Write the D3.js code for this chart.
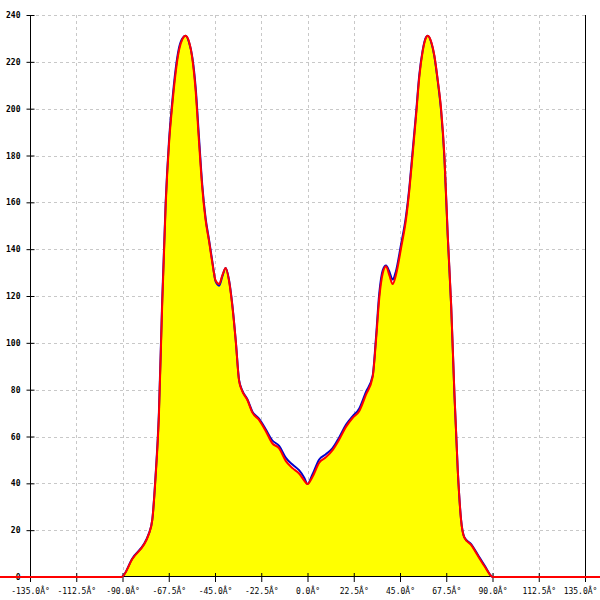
<!DOCTYPE html>
<html>
<head>
<meta charset="utf-8">
<script src="https://cdn.jsdelivr.net/npm/d3@7"></script>
<style>
  html, body { margin: 0; padding: 0; background: #ffffff; }
  svg { display: block; }
  .tick text { font-family: "DejaVu Sans Mono", monospace; font-size: 8px; fill: #000; }
</style>
</head>
<body>
<svg id="chart" width="600" height="600"></svg>
<script>
// ---- data ----
const angles = [-180, -90.5, -85.3, -77.2, -75.5, -73.9, -72.3, -70.7, -69.0, -67.4, -65.8, -64.2, -62.5, -60.9, -59.3, -57.7, -56.0, -54.4, -52.8, -51.2, -49.6, -47.9, -46.3, -44.7, -43.0, -41.4, -39.8, -38.2, -36.6, -34.9, -33.3, -31.7, -29.2, -26.8, -23.6, -20.4, -17.2, -13.8, -10.6, -7.3, -4.1, -1.6, 0, 2.4, 5.7, 8.9, 12.2, 15.4, 18.7, 21.9, 25.2, 28.4, 31.7, 33.3, 34.9, 36.6, 38.2, 39.8, 41.4, 43.0, 45.5, 47.9, 49.5, 51.1, 52.8, 54.4, 56.0, 57.7, 58.5, 60.1, 61.7, 63.4, 65.0, 66.6, 68.2, 69.9, 71.5, 73.1, 74.7, 76.3, 79.6, 82.8, 86.1, 90.2, 180];
const redValues = [0, 0, 7.6, 18.3, 24.4, 42.7, 68.6, 116, 158.7, 184.6, 201.4, 215, 225, 229.6, 231.1, 228.8, 221.2, 207.5, 186.1, 166.3, 152.6, 143.4, 134.2, 126.6, 125.1, 128.9, 132, 126.6, 116, 100.7, 83.9, 79.3, 75.5, 70.2, 67.1, 62.5, 57.2, 54.9, 49.6, 46.5, 44.2, 41.2, 39.7, 42.7, 48.8, 51.1, 54.2, 58.7, 64.1, 67.9, 70.9, 77.8, 85.4, 100.7, 119, 129.7, 132.7, 128.9, 125.1, 128.9, 140.4, 152.6, 164.8, 180, 196.8, 213.6, 224.3, 230.4, 231.1, 228.8, 222.7, 212, 199.8, 180, 146.5, 116, 77.8, 45.8, 24.4, 16.8, 13.7, 9.2, 4.6, 0, 0];
const blueValues = [0, 0, 7.8, 18.5, 24.6, 43.5, 70, 118, 160, 186, 203, 216.5, 226, 230, 231.1, 228.5, 221.8, 209, 188, 167.5, 153.5, 144, 134.8, 126.2, 124.4, 128.5, 132, 127, 116.5, 101, 84.2, 79.6, 75.8, 70.6, 67.6, 63.2, 58.4, 56.0, 51.0, 48.0, 45.6, 42.4, 39.7, 43.8, 50.2, 52.4, 55.0, 59.6, 65.0, 68.6, 72.0, 79.0, 86.0, 102, 121, 131, 133, 130.5, 127, 130.5, 142, 154, 166, 181.5, 198, 214.5, 224.8, 230.6, 231.1, 228.6, 222.5, 211.5, 199, 179, 146, 115.5, 77.5, 45.6, 24.6, 17.0, 14.0, 9.6, 5.0, 0, 0];
const xTicks = [-135, -112.5, -90, -67.5, -45, -22.5, 0, 22.5, 45, 67.5, 90, 112.5, 135];
const xTickLabels = ["-135.0Â°", "-112.5Â°", "-90.0Â°", "-67.5Â°", "-45.0Â°", "-22.5Â°", "0.0Â°", "22.5Â°", "45.0Â°", "67.5Â°", "90.0Â°", "112.5Â°", "135.0Â°"];
const yTicks = [0, 20, 40, 60, 80, 100, 120, 140, 160, 180, 200, 220, 240];

// ---- layout ----
const svg = d3.select("#chart");
const mLeft = 30, mRight = 585, mTop = 15, mBottom = 577;
const x = d3.scaleLinear().domain([-135, 135]).range([mLeft, mRight]);
const y = d3.scaleLinear().domain([0, 240]).range([mBottom, mTop]);

const redData = angles.map((a, i) => ({ a, v: redValues[i] }));
const blueData = angles.map((a, i) => ({ a, v: blueValues[i] }));

// grid
const grid = svg.append("g");
grid.selectAll("line.h").data(yTicks.filter(d => d > 0)).enter().append("line")
  .attr("x1", mLeft).attr("x2", mRight)
  .attr("y1", d => Math.round(y(d)) + 0.5).attr("y2", d => Math.round(y(d)) + 0.5)
  .attr("stroke", "#c8c8c8").attr("stroke-dasharray", "3,3");
grid.selectAll("line.v").data(xTicks.filter(d => d > -135 && d < 135)).enter().append("line")
  .attr("y1", mTop).attr("y2", mBottom)
  .attr("x1", d => Math.round(x(d)) + 0.5).attr("x2", d => Math.round(x(d)) + 0.5)
  .attr("stroke", "#c8c8c8").attr("stroke-dasharray", "3,3");

// area
const curve = d3.curveMonotoneX;
svg.append("path").datum(redData)
  .attr("fill", "#ffff00")
  .attr("d", d3.area().x(d => x(d.a)).y0(y(0)).y1(d => y(d.v)).curve(curve));

// axes
const yAxis = d3.axisLeft(y).tickValues(yTicks).tickSize(0).tickPadding(10).tickFormat(d3.format("d"));
const gy = svg.append("g").attr("transform", `translate(${mLeft + 0.5},0)`).call(yAxis);
gy.select(".domain").remove();
gy.selectAll(".tick text").attr("font-weight", "bold");
gy.selectAll(".tick").append("line").attr("x1", -4).attr("x2", 4).attr("stroke", "#000");
svg.append("line").attr("x1", mLeft + 0.5).attr("x2", mLeft + 0.5).attr("y1", mTop).attr("y2", mBottom).attr("stroke", "#000");
svg.append("line").attr("x1", mRight + 0.5).attr("x2", mRight + 0.5).attr("y1", mTop).attr("y2", mBottom).attr("stroke", "#000");

const xAxis = d3.axisBottom(x).tickValues(xTicks).tickSize(0).tickPadding(11)
  .tickFormat((d, i) => xTickLabels[i]);
const gx = svg.append("g").attr("transform", `translate(0,${mBottom})`).call(xAxis);
gx.select(".domain").remove();
gx.selectAll(".tick").append("line").attr("y1", -4).attr("y2", 5).attr("stroke", "#000");
gx.selectAll(".tick text").filter(d => d === 135).attr("dx", -5);
svg.append("line").attr("x1", mLeft).attr("x2", mRight).attr("y1", mBottom - 0.5).attr("y2", mBottom - 0.5).attr("stroke", "#000");

// lines
const line = d3.line().x(d => x(d.a)).y(d => y(d.v)).curve(curve);
svg.append("path").datum(blueData)
  .attr("fill", "none").attr("stroke", "#0000cc").attr("stroke-width", 2)
  .attr("d", line);
svg.append("path").datum(redData)
  .attr("fill", "none").attr("stroke", "#ff0000").attr("stroke-width", 2)
  .attr("d", line);
</script>
</body>
</html>
